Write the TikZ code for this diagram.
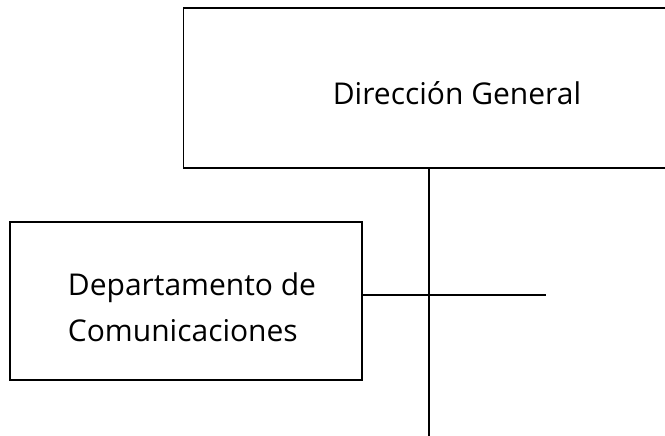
\documentclass[tikz,border=0pt]{standalone}
\usepackage{fontspec}
\setmainfont{Open Sans}
\begin{document}
\begin{tikzpicture}[
  x=0.75pt, y=-0.75pt,
  unit/.style={draw=black, line width=1.2pt, fill=white, inner sep=0pt},
  unittext/.style={inner sep=0pt, font={\fontsize{22.5}{34.5}\selectfont}},
  link/.style={draw=black, line width=1.1pt}
]
  \useasboundingbox (0,0) rectangle (665,436);

  %% ============================================ the head of the chart
  \begin{scope}
    \clip (0,0) rectangle (665,436);
    \node[unit, minimum width=545*0.75pt, minimum height=160*0.75pt] (dg)
      at (456,88) {};
  \end{scope}
  \node[unittext] (dgtext) at (457,93) {Dirección General};

  %% ------------------------------------------------------ the department
  \node[unit, minimum width=352*0.75pt, minimum height=158*0.75pt] (dc)
    at (186,301) {};
  \node[unittext, align=left] (dctext) at (192,307)
    {Departamento de\\Comunicaciones};

  % the trunk runs from the head to the lower edge, the branch crosses it
  \coordinate (trunk) at (429,168);
  \coordinate (foot) at (429,436);
  \coordinate (branch) at (546,295);
  \draw[link] (trunk) -- (foot);
  \draw[link] (dc.east |- branch) -- (branch);

\end{tikzpicture}
\end{document}
